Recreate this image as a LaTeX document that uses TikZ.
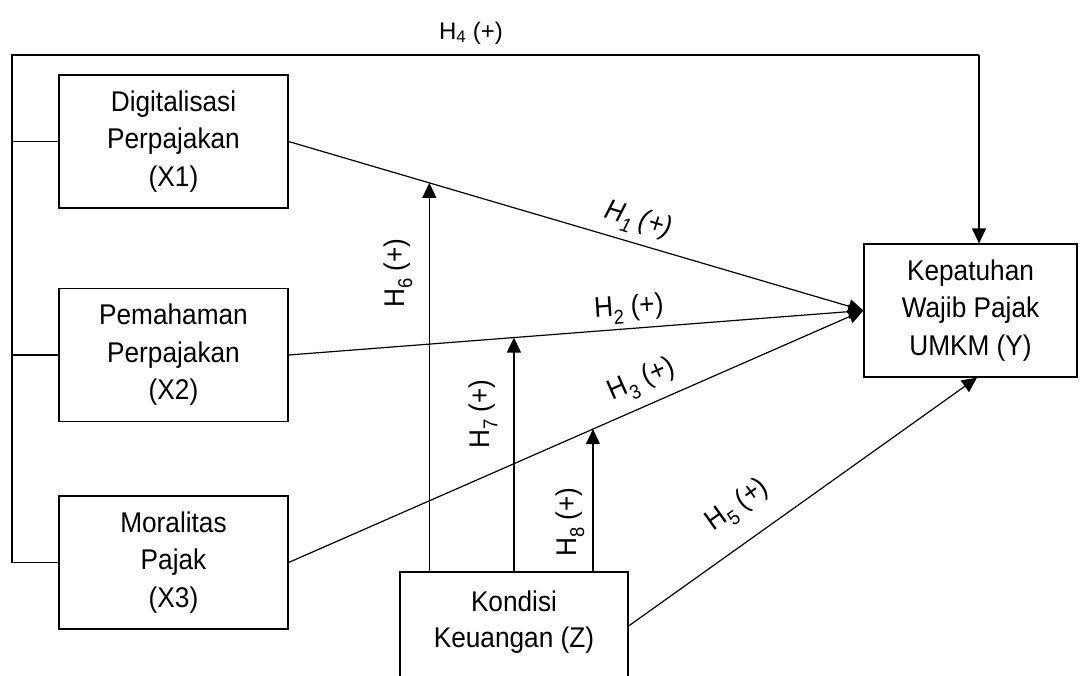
\documentclass[tikz,border=0pt]{standalone}
\usepackage{fontspec}
\setmainfont[FakeStretch=0.92]{Liberation Sans}
\newfontfamily\plainfont{Liberation Sans}
\usetikzlibrary{arrows.meta}
\newcommand{\hsub}[1]{\raisebox{-0.28em}{\fontsize{20}{20}\selectfont #1}}
\begin{document}
\begin{tikzpicture}[x=1pt,y=-1pt,
  line width=1.2pt,
  arr/.style={-{Triangle[length=15pt,width=14pt]}},
  varbox/.style={draw,rectangle,minimum width=229pt,minimum height=133pt,inner sep=0pt,align=center,
     font=\fontsize{28.5}{37.5}\selectfont},
  hlab/.style={inner sep=0pt,font=\fontsize{28.5}{30}\selectfont},
  btext/.style={inner sep=0pt,align=center,font=\fontsize{28.5}{36}\selectfont}]
\useasboundingbox (0,0) rectangle (1083,675);

\node[varbox] (X1) at (173.5,141.5) {Digitalisasi\\Perpajakan\\(X1)};
\node[varbox] (X2) at (173.5,355) {Pemahaman\\Perpajakan\\(X2)};
\node[varbox] (X3) at (173.5,562.5) {Moralitas\\Pajak\\(X3)};
\node[varbox,minimum width=213pt] (Y) at (970.5,310.5) {Kepatuhan\\Wajib Pajak\\UMKM (Y)};
\node[draw,rectangle,minimum width=228pt,minimum height=133pt,inner sep=0pt] (Z) at (514,638.5) {};
\node[btext] (Zt) at (514,622) {Kondisi\\Keuangan (Z)};

% H4 path
\coordinate (tl) at (12,55);
\coordinate (tr) at (979,55);
\draw (tl |- X3.west) -- (tl) -- (tr);
\draw[arr] (tr) -- (tr |- Y.north);
\draw (tl |- X1.west) -- (X1.west);
\draw (tl |- X2.west) -- (X2.west);
\draw (tl |- X3.west) -- (X3.west);

% direct effects
\draw[arr] (X1.east) -- coordinate[pos=0.2448] (m6) (Y.west);
\draw[arr] (X2.east) -- coordinate[pos=0.392] (m7) (Y.west);
\draw[arr] (X3.east) -- coordinate[pos=0.5295] (m8) (Y.west);
\draw[arr] ([yshift=12.5pt]Z.east) -- ([xshift=6.5pt]Y.south);

% moderation
\draw[arr] (m6 |- Z.north) -- (m6);
\draw[arr] (m7 |- Z.north) -- (m7);
\draw[arr] (m8 |- Z.north) -- (m8);

% labels
\node[inner sep=0pt,font=\plainfont\fontsize{24}{28}\selectfont] (l4) at (471,33) {H\textsubscript{4} (+)};
\node[hlab,font=\fontsize{28.5}{30}\selectfont\itshape,rotate=-16.8] (l1) at (638,221) {H\hsub{\itshape 1} (+)};
\node[hlab,rotate=4] (l2) at (629,309) {H\hsub{2} (+)};
\node[hlab,rotate=23.7] (l3) at (642,381) {H\hsub{3} (+)};
\node[hlab,rotate=35.5] (l5) at (738,506) {H\hsub{5} (+)};
\node[hlab,rotate=90] (l6) at (398,273) {H\hsub{6} (+)};
\node[hlab,rotate=90] (l7) at (483,414) {H\hsub{7} (+)};
\node[hlab,rotate=90] (l8) at (570,522) {H\hsub{8} (+)};
\end{tikzpicture}
\end{document}
